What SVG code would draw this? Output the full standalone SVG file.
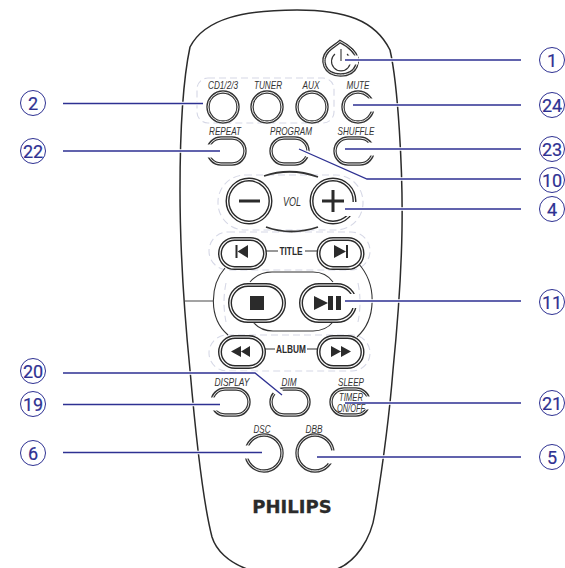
<svg xmlns="http://www.w3.org/2000/svg" width="565" height="568" viewBox="0 0 565 568">
<style>
text{font-family:"Liberation Sans",Arial,sans-serif}
.body{fill:#fff;stroke:#2b2b2b;stroke-width:1.5}
.dash{fill:none;stroke:#d6d8e6;stroke-width:1.1;stroke-dasharray:7 4}
.o{fill:#fff;stroke:#333;stroke-width:3.4}
.i{fill:none;stroke:#fff;stroke-width:.9}
.o2{fill:#fff;stroke:#2a2a2a;stroke-width:4}
.i2{fill:none;stroke:#fff;stroke-width:1.2}
.thin{fill:none;stroke:#333;stroke-width:1.1}
.arc{fill:none;stroke:#333;stroke-width:1.8}
.ic{fill:#2b2b2b;stroke:none}
.lb{font-size:11px;font-style:italic;fill:#333;text-anchor:middle}
.bd{font-size:11px;font-weight:bold;fill:#2b2b2b;text-anchor:middle}
.halo{fill:none;stroke:#fff;stroke-width:3.5}
.gap{fill:none;stroke:#fff;stroke-width:13}
.lead{fill:none;stroke:#2e3192;stroke-width:1.3}
.cc{fill:#fff;stroke:#2e3192;stroke-width:1}
.num{font-family:Roboto,"Liberation Sans",sans-serif;font-size:18px;fill:#2e3192;text-anchor:middle;stroke:#2e3192;stroke-width:.2}
</style>
<g id="remote">
<path class="body" d="M297 10C345 10 375 20 390 50C398 85 403 170 402 230C401 290 396 340 393 370C389 420 382 470 375 513C371 540 355 562 337 569L247 569C228 562 216 550 212 537C205 510 197 450 190 370C185 320 180 250 180 190C180 130 183 80 190 47C205 18 245 10 297 10Z"/>
<rect class="dash" x="197" y="78" width="137" height="45" rx="11"/>
<rect class="dash" x="218" y="175" width="145" height="55" rx="27"/>
<rect class="dash" x="209" y="232" width="161" height="38" rx="19"/>
<rect class="dash" x="209" y="335" width="161" height="36" rx="18"/>
<path class="dash" d="M226 283Q222 302 226 322M358 283Q362 302 358 322"/>
<path class="thin" d="M225 268C210 285 208 318 228 335M358 263C378 285 376 320 357 337M250 282C256 275 262 272 272 272L313 272C322 272 328 275 333 282M253 322C258 328 264 331 273 331L313 331C322 331 328 328 333 322"/>
<path d="M185 301H213" fill="none" stroke="#666" stroke-width="1.2"/>
<path class="thin" d="M266 251H278M305 251H317M265 349H275M307 349H317"/>
<path class="arc" d="M264 176Q291 167 318 177M266 227Q291 236 318 227"/>
</g>
<g id="btn-power"><path class="o" d="M340 41.500C345 44 349 47 352 50C362 60 357 75 340.500 75C324 75 320 60 328 51C332 47 336 45 340 41.500Z"/><path class="i" d="M340 41.500C345 44 349 47 352 50C362 60 357 75 340.500 75C324 75 320 60 328 51C332 47 336 45 340 41.500Z"/><path class="thin" d="M335 54A9.500 9.500 0 1 0 347 54M341 49V61"/></g>
<g id="btn-cd"><circle class="o" cx="223" cy="107" r="15"/><circle class="i" cx="223" cy="107" r="15"/><text class="lb" x="223" y="89" textLength="30" lengthAdjust="spacingAndGlyphs">CD1/2/3</text></g>
<g id="btn-tuner"><circle class="o" cx="267" cy="107" r="15"/><circle class="i" cx="267" cy="107" r="15"/><text class="lb" x="268" y="89" textLength="28" lengthAdjust="spacingAndGlyphs">TUNER</text></g>
<g id="btn-aux"><circle class="o" cx="312" cy="107" r="15"/><circle class="i" cx="312" cy="107" r="15"/><text class="lb" x="311" y="89" textLength="17" lengthAdjust="spacingAndGlyphs">AUX</text></g>
<g id="btn-mute"><circle class="o" cx="358" cy="107" r="15"/><circle class="i" cx="358" cy="107" r="15"/><text class="lb" x="358" y="89" textLength="23" lengthAdjust="spacingAndGlyphs">MUTE</text></g>
<g id="btn-repeat"><rect class="o" x="208" y="138" width="37" height="26" rx="13"/><rect class="i" x="208" y="138" width="37" height="26" rx="13"/><text class="lb" x="225" y="134.500" textLength="32" lengthAdjust="spacingAndGlyphs">REPEAT</text></g>
<g id="btn-program"><rect class="o" x="271" y="138" width="37" height="26" rx="13"/><rect class="i" x="271" y="138" width="37" height="26" rx="13"/><text class="lb" x="291" y="134.500" textLength="42" lengthAdjust="spacingAndGlyphs">PROGRAM</text></g>
<g id="btn-shuffle"><rect class="o" x="335" y="138" width="38" height="26" rx="13"/><rect class="i" x="335" y="138" width="38" height="26" rx="13"/><text class="lb" x="356" y="134.500" textLength="37" lengthAdjust="spacingAndGlyphs">SHUFFLE</text></g>
<g id="btn-volminus"><circle class="o2" cx="249" cy="201" r="21.500"/><circle class="i2" cx="249" cy="201" r="21.500"/><rect class="ic" x="239" y="199.500" width="21" height="3"/></g>
<text class="lb" x="292" y="206" style="font-size:12.500px" textLength="18" lengthAdjust="spacingAndGlyphs">VOL</text>
<g id="btn-volplus"><circle class="o2" cx="333" cy="201" r="21.500"/><circle class="i2" cx="333" cy="201" r="21.500"/><rect class="ic" x="322" y="199.500" width="22" height="3"/><rect class="ic" x="331.500" y="190" width="3" height="22"/></g>
<g id="btn-prev"><rect class="o2" x="220" y="239" width="45" height="29" rx="14.500"/><rect class="i2" x="220" y="239" width="45" height="29" rx="14.500"/><rect class="ic" x="235.500" y="245" width="2" height="13"/><path class="ic" d="M248 245V258L237.500 251.500Z"/></g>
<text class="bd" x="291" y="255" textLength="23" lengthAdjust="spacingAndGlyphs">TITLE</text>
<g id="btn-next"><rect class="o2" x="318.500" y="239" width="44" height="29" rx="14.500"/><rect class="i2" x="318.500" y="239" width="44" height="29" rx="14.500"/><path class="ic" d="M334 245V258L346 251.500Z"/><rect class="ic" x="346" y="245" width="2" height="13"/></g>
<g id="btn-stop"><rect class="o2" x="230" y="285" width="54" height="36" rx="18"/><rect class="i2" x="230" y="285" width="54" height="36" rx="18"/><rect class="ic" x="250" y="296" width="14" height="14"/></g>
<g id="btn-play"><rect class="o2" x="301" y="285" width="54" height="36" rx="18"/><rect class="i2" x="301" y="285" width="54" height="36" rx="18"/><path class="ic" d="M314 296V310L328 303Z"/><rect class="ic" x="328" y="296" width="5" height="14"/><rect class="ic" x="336" y="296" width="5" height="14"/></g>
<g id="btn-rew"><rect class="o2" x="220" y="337" width="44" height="30" rx="15"/><rect class="i2" x="220" y="337" width="44" height="30" rx="15"/><path class="ic" d="M231 351.500L241 346V357ZM241 351.500L250 346V357Z"/></g>
<text class="bd" x="291" y="353" textLength="30" lengthAdjust="spacingAndGlyphs">ALBUM</text>
<g id="btn-ff"><rect class="o2" x="318.500" y="337" width="44" height="30" rx="15"/><rect class="i2" x="318.500" y="337" width="44" height="30" rx="15"/><path class="ic" d="M331 346L341 351.500L331 357ZM341 346L351 351.500L341 357Z"/></g>
<g id="btn-display"><rect class="o" x="212" y="389" width="37" height="26" rx="13"/><rect class="i" x="212" y="389" width="37" height="26" rx="13"/><text class="lb" x="232" y="386" textLength="35" lengthAdjust="spacingAndGlyphs">DISPLAY</text></g>
<g id="btn-dim"><rect class="o" x="271" y="389" width="38" height="26" rx="13"/><rect class="i" x="271" y="389" width="38" height="26" rx="13"/><text class="lb" x="289" y="386" textLength="15" lengthAdjust="spacingAndGlyphs">DIM</text></g>
<g id="btn-timer"><rect class="o" x="331" y="389" width="38" height="26" rx="13"/><rect class="i" x="331" y="389" width="38" height="26" rx="13"/><text class="lb" x="351" y="386" textLength="26" lengthAdjust="spacingAndGlyphs">SLEEP</text></g>
<g id="btn-dsc"><circle class="o" cx="264" cy="453" r="18"/><circle class="i" cx="264" cy="453" r="18"/><text class="lb" x="262" y="433" textLength="17" lengthAdjust="spacingAndGlyphs">DSC</text></g>
<g id="btn-dbb"><circle class="o" cx="315" cy="453" r="18"/><circle class="i" cx="315" cy="453" r="18"/><text class="lb" x="314" y="433" textLength="17" lengthAdjust="spacingAndGlyphs">DBB</text></g>
<g id="connectors">
<path class="gap" d="M368 105H378M368 149H379M205 151H216M209 404H220M364 403H376M242 452H252M328 457H340"/>
<path class="gap" d="M346 301H358M344 209H358" style="stroke-width:14"/>
<path class="gap" d="M348 60H358" style="stroke-width:9"/>
<path class="gap" d="M270 385L282 395" style="stroke-width:8"/>
<path class="gap" d="M306 153L316 158" style="stroke-width:6"/>
<path class="halo" d="M63 103.500H203M63 151H220M63 373H255L282 395M63 404.500H220M63 452.500H262M345 60H521M353 105H521M345 149H521M299 149L367 179H521M345 209H521M345 301H521M345 403H521M317 457H521"/>
<path class="lead" d="M63 103.500H203M63 151H220M63 373H255L282 395M63 404.500H220M63 452.500H262M345 60H521M353 105H521M345 149H521M299 149L367 179H521M345 209H521M345 301H521M345 403H521M317 457H521"/>
</g>
<text class="lb" x="351" y="401" textLength="24" lengthAdjust="spacingAndGlyphs">TIMER</text>
<text class="lb" x="351" y="411.500" textLength="28" lengthAdjust="spacingAndGlyphs">ON/OFF</text>
<text id="logo" x="292" y="513" text-anchor="middle" style="font-family:'DejaVu Sans',sans-serif;font-weight:bold;font-size:18px;fill:#2b2b2b;stroke:#2b2b2b;stroke-width:.3">PHILIPS</text>
<g id="c2"><circle class="cc" cx="33" cy="103" r="12.500"/><text class="num" x="33" y="109.500">2</text></g>
<g id="c22"><circle class="cc" cx="33" cy="151" r="12.500"/><text class="num" x="33" y="157.500">22</text></g>
<g id="c20"><circle class="cc" cx="33" cy="371" r="12.500"/><text class="num" x="33" y="377.500">20</text></g>
<g id="c19"><circle class="cc" cx="33" cy="404" r="12.500"/><text class="num" x="33" y="410.500">19</text></g>
<g id="c6"><circle class="cc" cx="33" cy="453" r="12.500"/><text class="num" x="33" y="459.500">6</text></g>
<g id="c1"><circle class="cc" cx="552" cy="60" r="12.500"/><text class="num" x="552" y="66.500">1</text></g>
<g id="c24"><circle class="cc" cx="552" cy="105" r="12.500"/><text class="num" x="552" y="111.500">24</text></g>
<g id="c23"><circle class="cc" cx="552" cy="149" r="12.500"/><text class="num" x="552" y="155.500">23</text></g>
<g id="c10"><circle class="cc" cx="552" cy="180" r="12.500"/><text class="num" x="552" y="186.500">10</text></g>
<g id="c4"><circle class="cc" cx="552" cy="209" r="12.500"/><text class="num" x="552" y="215.500">4</text></g>
<g id="c11"><circle class="cc" cx="552" cy="302" r="12.500"/><text class="num" x="552" y="308.500">11</text></g>
<g id="c21"><circle class="cc" cx="552" cy="403" r="12.500"/><text class="num" x="552" y="409.500">21</text></g>
<g id="c5"><circle class="cc" cx="552" cy="457" r="12.500"/><text class="num" x="552" y="463.500">5</text></g>
</svg>
